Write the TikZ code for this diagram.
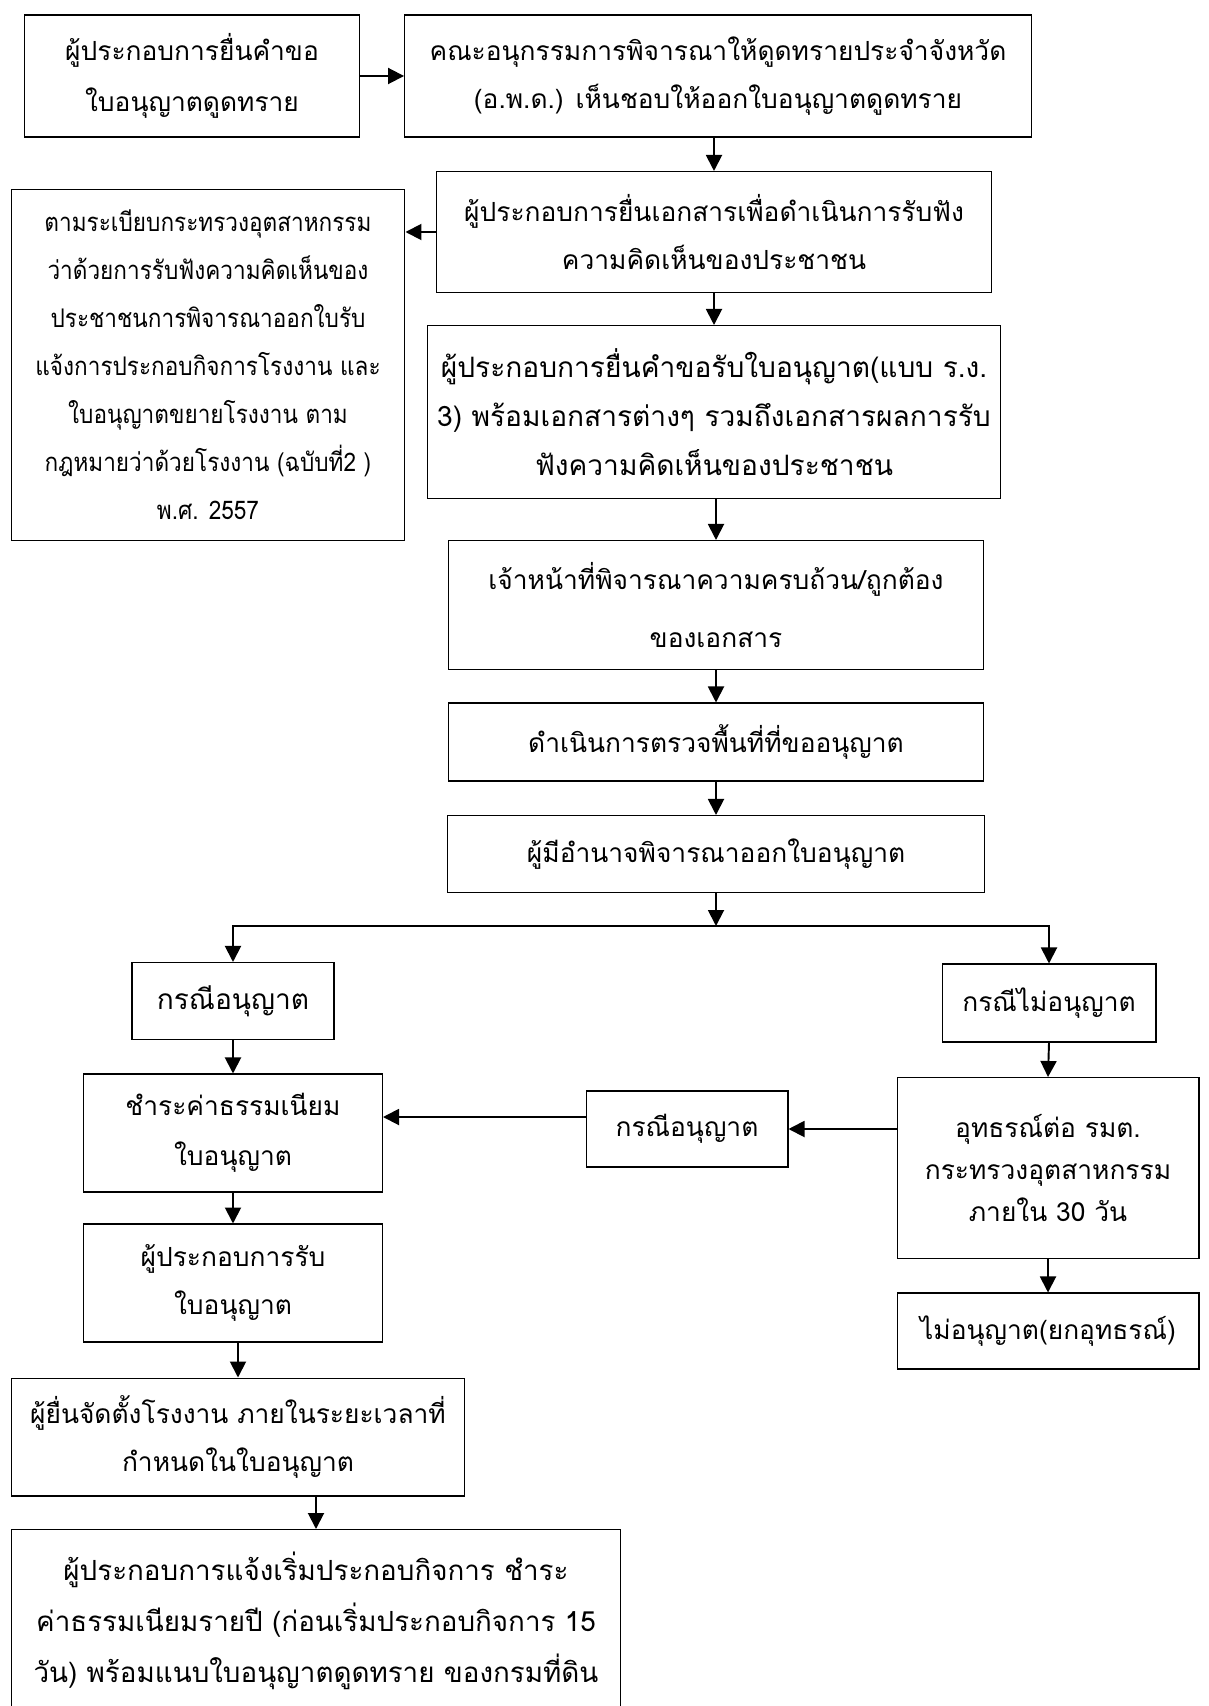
\documentclass[tikz,border=0pt]{standalone}
\usepackage{fontspec}
\newfontfamily\thaifont[Script=Thai]{Loma}
\newfontfamily\thainarrow[Script=Thai, FakeStretch=0.88]{Loma}
\usetikzlibrary{arrows.meta}
\tikzset{
	thaisize/.style 2 args={font=\thaifont\fontsize{#1}{#2}\selectfont},
	box/.style={draw, line width=0.6pt, inner sep=0pt, align=center, thaisize={15}{27.3}},
	flow/.style={line width=1.1pt, -{Triangle[width=0.32cm,length=0.32cm]}}
}

\begin{document}
\begin{tikzpicture}[x=0.02cm, y=-0.02cm]
	\useasboundingbox (0,0) rectangle (1208,1706);
	
	\node[box, thaisize={15}{29}, minimum width=6.72cm, minimum height=2.44cm] at (192,76) (applicant) {ผู้ประกอบการยื่นคำขอ\\ใบอนุญาตดูดทราย};
	\node[box, minimum width=12.54cm, minimum height=2.44cm] at (718,76) (committee) {คณะอนุกรรมการพิจารณาให้ดูดทรายประจำจังหวัด\\(อ.พ.ด.) เห็นชอบให้ออกใบอนุญาตดูดทราย};
	\node[box, minimum width=11.1cm, minimum height=2.42cm] at (714,232) (hearing) {ผู้ประกอบการยื่นเอกสารเพื่อดำเนินการรับฟัง\\ความคิดเห็นของประชาชน};
	\node[box, font=\thainarrow\fontsize{14.6}{27.3}\selectfont, minimum width=7.88cm, minimum height=7.02cm] at (208,365) (regulation) {ตามระเบียบกระทรวงอุตสาหกรรม\\ว่าด้วยการรับฟังความคิดเห็นของ\\ประชาชนการพิจารณาออกใบรับ\\แจ้งการประกอบกิจการโรงงาน และ\\ใบอนุญาตขยายโรงงาน ตาม\\กฎหมายว่าด้วยโรงงาน (ฉบับที่2 )\\พ.ศ. 2557};
	\node[box, thaisize={16}{27.8}, minimum width=11.48cm, minimum height=3.46cm] at (714,412) (request) {ผู้ประกอบการยื่นคำขอรับใบอนุญาต(แบบ ร.ง.\\3) พร้อมเอกสารต่างๆ รวมถึงเอกสารผลการรับ\\ฟังความคิดเห็นของประชาชน};
	\node[box, thaisize={15}{33.5}, minimum width=10.7cm, minimum height=2.58cm] at (716,605) (officer) {เจ้าหน้าที่พิจารณาความครบถ้วน/ถูกต้อง\\ของเอกสาร};
	\node[box, minimum width=10.7cm, minimum height=1.56cm] at (716,742) (inspect) {ดำเนินการตรวจพื้นที่ที่ขออนุญาต};
	\node[box, minimum width=10.74cm, minimum height=1.54cm] at (716,854) (authority) {ผู้มีอำนาจพิจารณาออกใบอนุญาต};
	\coordinate (split) at (716,926);
	
	\node[box, thaisize={16}{27.3}, minimum width=4.04cm, minimum height=1.54cm] at (233,1001) (permit) {กรณีอนุญาต};
	\node[box, minimum width=4.28cm, minimum height=1.56cm] at (1049,1003) (refuse) {กรณีไม่อนุญาต};
	\node[box, thaisize={15}{24}, minimum width=6.04cm, minimum height=3.62cm] at (1048,1168) (appeal) {อุทธรณ์ต่อ รมต.\\กระทรวงอุตสาหกรรม\\ภายใน 30 วัน};
	\node[box, minimum width=4.04cm, minimum height=1.52cm] at (687,1129) (permit-appeal) {กรณีอนุญาต};
	\node[box, minimum width=6.04cm, minimum height=1.52cm] at (1048,1331) (dismiss) {ไม่อนุญาต(ยกอุทธรณ์)};
	
	\node[box, thaisize={15}{28.5}, minimum width=5.98cm, minimum height=2.36cm] at (233,1133) (fee) {ชำระค่าธรรมเนียม\\ใบอนุญาต};
	\node[box, minimum width=5.98cm, minimum height=2.36cm] at (233,1283) (receive) {ผู้ประกอบการรับ\\ใบอนุญาต};
	\node[box, minimum width=9.08cm, minimum height=2.36cm] at (238,1437) (factory) {ผู้ยื่นจัดตั้งโรงงาน ภายในระยะเวลาที่\\กำหนดในใบอนุญาต};
	\node[box, thaisize={15.8}{29}, minimum width=12.18cm, minimum height=3.66cm] at (316,1621) (notify) {ผู้ประกอบการแจ้งเริ่มประกอบกิจการ ชำระ\\ค่าธรรมเนียมรายปี (ก่อนเริ่มประกอบกิจการ 15\\วัน) พร้อมแนบใบอนุญาตดูดทราย ของกรมที่ดิน};
	
	\draw[flow] (applicant.east) -- (committee.west);
	\draw[flow] (committee.south -| hearing.north) -- (hearing.north);
	\draw[flow] (hearing.west) -- (regulation.east |- hearing.west);
	\draw[flow] (hearing.south -| request.north) -- (request.north);
	\draw[flow] (request.south -| officer.north) -- (officer.north);
	\draw[flow] (officer.south) -- (inspect.north);
	\draw[flow] (inspect.south) -- (authority.north);
	\draw[flow] (authority.south) -- (split);
	\draw[flow] (split) -| (permit.north);
	\draw[flow] (split) -| (refuse.north);
	
	\draw[flow] (refuse.south) -- (appeal.north);
	\draw[flow] (appeal.south) -- (dismiss.north);
	\draw[flow] (appeal.west |- permit-appeal.east) -- (permit-appeal.east);
	\draw[flow] ([yshift=0.24cm]permit-appeal.west) -- ([yshift=0.24cm]permit-appeal.west -| fee.east);
	
	\draw[flow] (permit.south) -- (fee.north);
	\draw[flow] (fee.south) -- (receive.north);
	\draw[flow] (receive.south -| factory.north) -- (factory.north);
	\draw[flow] (factory.south -| notify.north) -- (notify.north);
\end{tikzpicture}
\end{document}
